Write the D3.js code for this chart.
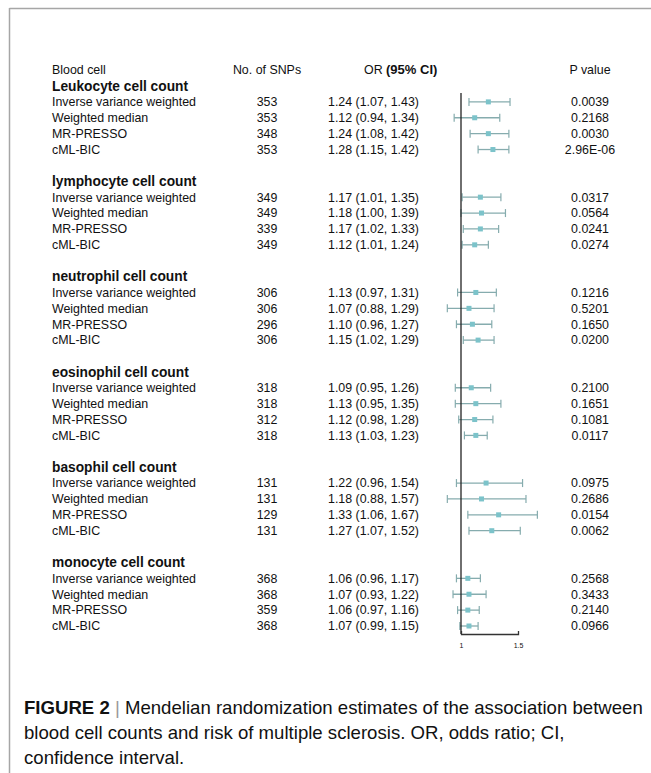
<!DOCTYPE html>
<html>
<head>
<meta charset="utf-8">
<script src="https://cdn.jsdelivr.net/npm/d3@7"></script>
<style>
  html, body { margin: 0; padding: 0; background: #fff; }
  svg { display: block; }
  text { font-family: "Liberation Sans", Arial, sans-serif; fill: #111; }
</style>
</head>
<body>
<svg id="chart" width="651" height="773"></svg>
<script>
// ---- data ----
const groups = ["Leukocyte cell count", "lymphocyte cell count", "neutrophil cell count",
                "eosinophil cell count", "basophil cell count", "monocyte cell count"];
const methods = ["Inverse variance weighted", "Weighted median", "MR-PRESSO", "cML-BIC"];
const nSNPs = [
  [353, 353, 348, 353],
  [349, 349, 339, 349],
  [306, 306, 296, 306],
  [318, 318, 312, 318],
  [131, 131, 129, 131],
  [368, 368, 359, 368]
];
const orEst = [
  [1.24, 1.12, 1.24, 1.28],
  [1.17, 1.18, 1.17, 1.12],
  [1.13, 1.07, 1.10, 1.15],
  [1.09, 1.13, 1.12, 1.13],
  [1.22, 1.18, 1.33, 1.27],
  [1.06, 1.07, 1.06, 1.07]
];
const ciLow = [
  [1.07, 0.94, 1.08, 1.15],
  [1.01, 1.00, 1.02, 1.01],
  [0.97, 0.88, 0.96, 1.02],
  [0.95, 0.95, 0.98, 1.03],
  [0.96, 0.88, 1.06, 1.07],
  [0.96, 0.93, 0.97, 0.99]
];
const ciHigh = [
  [1.43, 1.34, 1.42, 1.42],
  [1.35, 1.39, 1.33, 1.24],
  [1.31, 1.29, 1.27, 1.29],
  [1.26, 1.35, 1.28, 1.23],
  [1.54, 1.57, 1.67, 1.52],
  [1.17, 1.22, 1.16, 1.15]
];
const pValues = [
  ["0.0039", "0.2168", "0.0030", "2.96E-06"],
  ["0.0317", "0.0564", "0.0241", "0.0274"],
  ["0.1216", "0.5201", "0.1650", "0.0200"],
  ["0.2100", "0.1651", "0.1081", "0.0117"],
  ["0.0975", "0.2686", "0.0154", "0.0062"],
  ["0.2568", "0.3433", "0.2140", "0.0966"]
];
const axisTicks = [1, 1.5];
const captionLines = [
  [{t: "FIGURE 2", b: true}, {t: " | ", sep: true}, {t: "Mendelian randomization estimates of the association between"}],
  [{t: "blood cell counts and risk of multiple sclerosis. OR, odds ratio; CI,"}],
  [{t: "confidence interval."}]
];

// ---- layout ----
const svg = d3.select("#chart");
const fmt = d3.format(".2f");

// frame
svg.append("line").attr("x1", 9.5).attr("x2", 651).attr("y1", 8.5).attr("y2", 8.5)
  .attr("stroke", "#a6a6a6").attr("stroke-width", 1.5);
svg.append("line").attr("x1", 9.5).attr("x2", 9.5).attr("y1", 8).attr("y2", 773)
  .attr("stroke", "#a6a6a6").attr("stroke-width", 1.5);

// row scale: line index -> y center
const y = d3.scaleLinear().domain([0, 34]).range([86, 626]);
const x = d3.scaleLinear().domain([1, 1.5]).range([461, 518]);

const colName = 52, colSNP = 267, colOR = 328, colP = 590;
const fs = 12.4;

// header
const hdrY = y(-1);
svg.append("text").attr("x", colName).attr("y", hdrY).attr("dy", "0.35em")
  .style("font-size", fs + "px").text("Blood cell");
svg.append("text").attr("x", colSNP).attr("y", hdrY).attr("dy", "0.35em")
  .attr("text-anchor", "middle").style("font-size", fs + "px").text("No. of SNPs");
const orHdr = svg.append("text").attr("x", 364).attr("y", hdrY).attr("dy", "0.35em")
  .style("font-size", fs + "px");
orHdr.append("tspan").text("OR ");
orHdr.append("tspan").style("font-weight", "bold").style("font-size", "13px").text(" (95% CI)");
svg.append("text").attr("x", colP).attr("y", hdrY).attr("dy", "0.35em")
  .attr("text-anchor", "middle").style("font-size", fs + "px").text("P value");

// rows
const rows = [];
groups.forEach((g, gi) => {
  methods.forEach((m, mi) => {
    rows.push({
      gi, mi, method: m, n: nSNPs[gi][mi], or: orEst[gi][mi],
      lo: ciLow[gi][mi], hi: ciHigh[gi][mi], p: pValues[gi][mi],
      line: gi * 6 + mi + 1
    });
  });
});

svg.selectAll("text.group").data(groups).join("text")
  .attr("class", "group")
  .attr("x", colName).attr("y", (d, i) => y(i * 6)).attr("dy", "0.35em")
  .style("font-size", "13.75px").style("font-weight", "bold").text(d => d);

const rowG = svg.selectAll("g.row").data(rows).join("g")
  .attr("class", "row")
  .attr("transform", d => `translate(0,${y(d.line)})`);

rowG.append("text").attr("x", colName).attr("dy", "0.35em")
  .style("font-size", fs + "px").text(d => d.method);
rowG.append("text").attr("x", colSNP).attr("dy", "0.35em").attr("text-anchor", "middle")
  .style("font-size", fs + "px").text(d => d.n);
rowG.append("text").attr("x", colOR).attr("dy", "0.35em")
  .style("font-size", fs + "px").text(d => `${fmt(d.or)} (${fmt(d.lo)}, ${fmt(d.hi)})`);
rowG.append("text").attr("x", colP).attr("dy", "0.35em").attr("text-anchor", "middle")
  .style("font-size", fs + "px").text(d => d.p);

// forest plot
const ciColor = "#86acae";
const ptColor = "#7cc3ca";
const axisY = 634;

svg.append("line").attr("x1", x(1)).attr("x2", x(1)).attr("y1", 93).attr("y2", axisY)
  .attr("stroke", "#222").attr("stroke-width", 1.3);

rowG.append("line").attr("x1", d => x(d.lo)).attr("x2", d => x(d.hi))
  .attr("stroke", ciColor).attr("stroke-width", 1.3);
rowG.append("line").attr("x1", d => x(d.lo)).attr("x2", d => x(d.lo))
  .attr("y1", -4).attr("y2", 4).attr("stroke", ciColor).attr("stroke-width", 1.2);
rowG.append("line").attr("x1", d => x(d.hi)).attr("x2", d => x(d.hi))
  .attr("y1", -4).attr("y2", 4).attr("stroke", ciColor).attr("stroke-width", 1.2);
rowG.append("rect").attr("x", d => x(d.or) - 2.5).attr("y", -2.5)
  .attr("width", 5).attr("height", 5).attr("fill", ptColor);

// axis
const axis = d3.axisBottom(x).tickValues(axisTicks).tickFormat(d3.format(""))
  .tickSizeInner(0).tickSizeOuter(-3).tickPadding(9);
const axG = svg.append("g").attr("transform", `translate(0,${axisY})`).call(axis);
axG.select(".domain").attr("stroke", "#333").attr("stroke-width", 1.3);
axG.selectAll("text").style("font-size", "7px")
  .style("font-family", "Liberation Sans, Arial, sans-serif").attr("fill", "#222");

// caption
const capY = [707, 732, 757];
captionLines.forEach((parts, li) => {
  const t = svg.append("text").attr("x", 24).attr("y", capY[li]).attr("dy", "0.35em")
    .style("font-size", "18.6px").attr("fill", "#2a2a2a");
  parts.forEach(p => {
    const s = t.append("tspan").text(p.t);
    if (p.b) s.style("font-weight", "bold");
    if (p.sep) s.attr("fill", "#999");
  });
});
</script>
</body>
</html>
